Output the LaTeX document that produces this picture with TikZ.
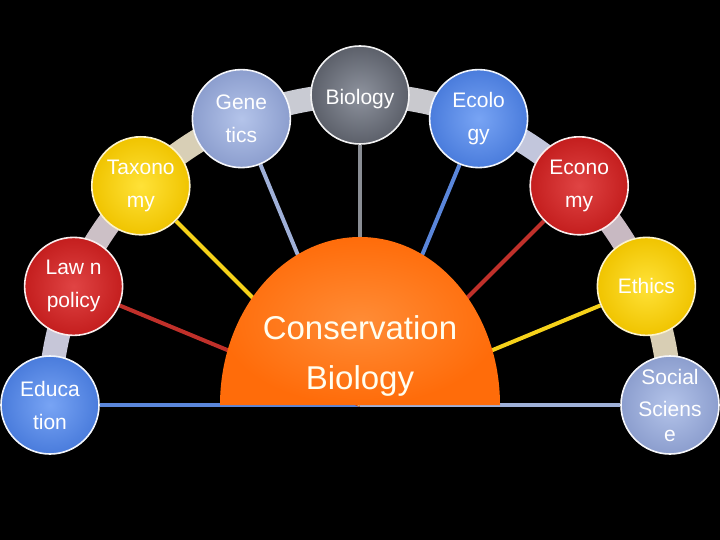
\documentclass[tikz,border=0pt]{standalone}
\usepackage{fontspec}
\setmainfont{Liberation Sans}
\pgfdeclarelayer{back}
\pgfdeclarelayer{mid}
\pgfsetlayers{back,mid,main}
\definecolor{cblue}{HTML}{4A7CDC}
\definecolor{cbluein}{HTML}{78A4F4}
\definecolor{cred}{HTML}{C41E1E}
\definecolor{credin}{HTML}{E04444}
\definecolor{cyel}{HTML}{F0C400}
\definecolor{cyelin}{HTML}{FFE238}
\definecolor{clav}{HTML}{8C9ECE}
\definecolor{clavin}{HTML}{B4C4EA}
\definecolor{cgray}{HTML}{5C606A}
\definecolor{cgrayin}{HTML}{8E939E}
\definecolor{corange}{HTML}{FF6C0A}
\definecolor{corangein}{HTML}{FF8C36}
\definecolor{bandA}{HTML}{C6C6D8}
\definecolor{bandB}{HTML}{CCC0C6}
\definecolor{bandC}{HTML}{D8CFB6}
\definecolor{bandD}{HTML}{C9CBD3}
\definecolor{bandE}{HTML}{C9C9CE}
\definecolor{bandF}{HTML}{C2C6DC}
\definecolor{bandG}{HTML}{C8B9C2}
\definecolor{bandH}{HTML}{D8CEB4}
\definecolor{sblue}{HTML}{5A86DA}
\definecolor{sred}{HTML}{C0302A}
\definecolor{syel}{HTML}{F6D21A}
\definecolor{slav}{HTML}{9FB0D8}
\definecolor{sgray}{HTML}{8A8D94}
\tikzset{
  topic/.style={circle, minimum size=98pt, inner sep=0pt, line width=1.6pt,
    text=white, font=\fontsize{21}{33}\selectfont, align=center},
  bluetopic/.style={topic, draw=white!92!cblue, inner color=cbluein, outer color=cblue},
  redtopic/.style={topic, draw=white!92!cred, inner color=credin, outer color=cred},
  yeltopic/.style={topic, draw=white!80!cyel, inner color=cyelin, outer color=cyel},
  lavtopic/.style={topic, draw=white!92!clav, inner color=clavin, outer color=clav},
  graytopic/.style={topic, draw=white!92!cgray, inner color=cgrayin, outer color=cgray},
  band/.style={line width=24pt},
  spoke/.style={line width=4pt},
}
\begin{document}
\begin{tikzpicture}[x=1pt,y=1pt]
\begin{pgfonlayer}{back}
  \fill[black] (0,0) rectangle (720,-540);
\end{pgfonlayer}
\useasboundingbox (0,0) rectangle (720,-540);
\coordinate (c) at (360,-405);
% topic circles
\node[bluetopic] (edu) at ([shift={(180:310)}]c) {Educa\\tion};
\node[redtopic]  (law) at ([shift={(157.5:310)}]c) {Law n\\policy};
\node[yeltopic]  (tax) at ([shift={(135:310)}]c) {Taxono\\my};
\node[lavtopic]  (gen) at ([shift={(112.5:310)}]c) {Gene\\tics};
\node[graytopic] (bio) at ([shift={(90:310)}]c) {\raisebox{-4pt}[\height][\depth]{Biology}};
\node[bluetopic] (eco) at ([shift={(67.5:310)}]c) {Ecolo\\gy};
\node[redtopic]  (econ) at ([shift={(45:310)}]c) {Econo\\my};
\node[yeltopic]  (eth) at ([shift={(22.5:310)}]c) {Ethics};
\node[lavtopic]  (soc) at ([shift={(0:310)}]c) {Social\\[-1pt]Sciens\\[-8pt]e};
% band and spokes
\begin{pgfonlayer}{mid}
  \draw[band, bandA] (edu.center) arc (180:157.5:310pt);
  \draw[band, bandB] (law.center) arc (157.5:135:310pt);
  \draw[band, bandC] (tax.center) arc (135:112.5:310pt);
  \draw[band, bandD] (gen.center) arc (112.5:90:310pt);
  \draw[band, bandE] (bio.center) arc (90:67.5:310pt);
  \draw[band, bandF] (eco.center) arc (67.5:45:310pt);
  \draw[band, bandG] (econ.center) arc (45:22.5:310pt);
  \draw[band, bandH] (eth.center) arc (22.5:0:310pt);
  \draw[spoke, sblue] (edu) -- (c);
  \draw[spoke, sred] (law) -- (c);
  \draw[spoke, syel] (tax) -- (c);
  \draw[spoke, slav] (gen) -- (c);
  \draw[spoke, sgray] (bio) -- (c);
  \draw[spoke, sblue] (eco) -- (c);
  \draw[spoke, sred] (econ) -- (c);
  \draw[spoke, syel] (eth) -- (c);
  \draw[spoke, slav] (soc) -- (c);
\end{pgfonlayer}
% central half disc
\shade[inner color=corangein, outer color=corange] (c) ++(140,0) arc (0:180:140 and 168) -- cycle;
\node[text=white!94!yellow, font=\fontsize{33}{50}\selectfont, align=center] (cb) at (360,-356) {Conservation\\Biology};
\end{tikzpicture}
\end{document}
